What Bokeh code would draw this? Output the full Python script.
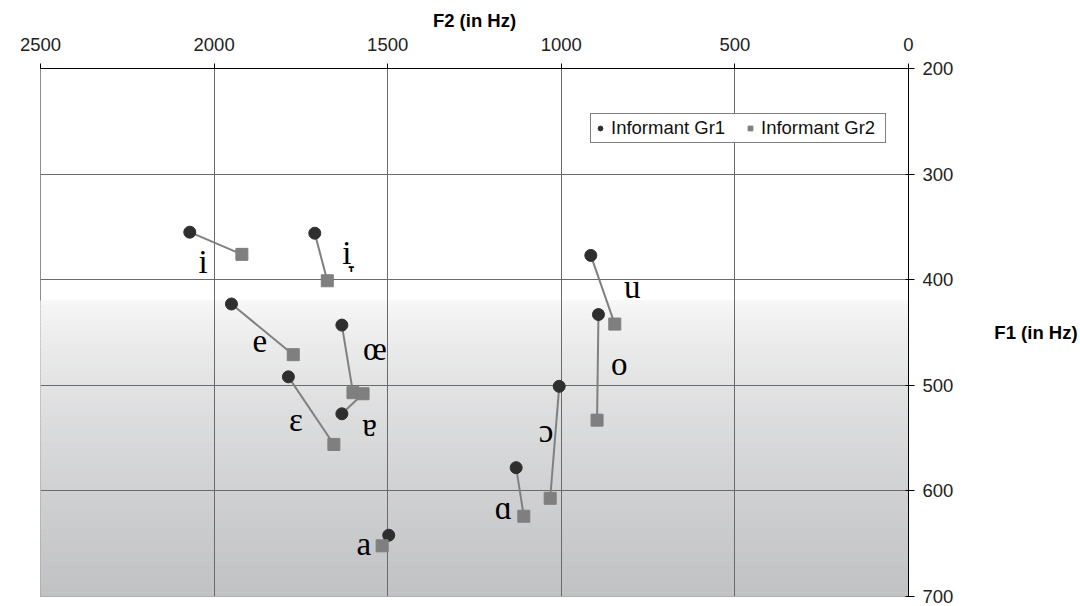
from bokeh.plotting import figure
from bokeh.models import Range1d, Legend, LegendItem, ColumnDataSource, FixedTicker
from bokeh.core.properties import value
from bokeh.embed import file_html
from bokeh.resources import INLINE
import numpy as np

# --- data ---
vowels = ["i", "i\u031e", "e", "\u0153", "\u025b", "\u0250", "a", "\u0251", "\u0254", "u", "o"]
gr1_f2 = [2070, 1710, 1950, 1632, 1786, 1632, 1497, 1130, 1006, 915, 893]
gr1_f1 = [355, 356, 423, 443, 492, 527, 642, 578, 501, 377, 433]
gr2_f2 = [1920, 1674, 1772, 1600, 1655, 1571, 1516, 1108, 1032, 846, 897]
gr2_f1 = [376, 401, 471, 507, 556, 508, 652, 624, 607, 442, 533]
label_f2 = [2032, 1618, 1868, 1537, 1764, 1552, 1569, 1167, 1044, 796, 833]
label_f1 = [383, 375, 458, 466, 533, 538, 650, 616, 543, 407, 480]
x_ticks = [0, 500, 1000, 1500, 2000, 2500]
y_ticks = [200, 300, 400, 500, 600, 700]

SANS = "Liberation Sans"
SERIF = "Liberation Serif"
FS = "18.5px"

p = figure(width=1080, height=606, output_backend="svg", toolbar_location=None,
           x_range=Range1d(2500, 0), y_range=Range1d(700, 200),
           x_axis_location="above", y_axis_location="right",
           min_border_left=40, min_border_right=170, min_border_top=68, min_border_bottom=10)
p.background_fill_color = "white"
p.border_fill_color = "white"
p.outline_line_color = "#8c8c8c"
p.outline_line_width = 1

# background gradient (plot area fill)
n = 70
edges = np.linspace(420, 700, n + 1)
c0 = np.array([249, 249, 249])
c1 = np.array([193, 194, 196])
cols = []
for k in range(n):
    t = ((k + 0.5) / n) ** 0.75
    c = (c0 + (c1 - c0) * t).astype(int)
    cols.append("#%02x%02x%02x" % tuple(c))
bg = p.quad(left=2500, right=0, bottom=edges[1:], top=edges[:-1], fill_color=cols,
            line_color=cols, line_width=1)
bg.level = "image"

# grid
for g in (p.xgrid[0], p.ygrid[0]):
    g.grid_line_color = "#6a6a6a"
    g.grid_line_width = 1
p.xaxis.ticker = FixedTicker(ticks=x_ticks)
p.yaxis.ticker = FixedTicker(ticks=y_ticks)
p.xgrid.ticker = FixedTicker(ticks=x_ticks)
p.ygrid.ticker = FixedTicker(ticks=y_ticks)

for ax in (p.xaxis[0], p.yaxis[0]):
    ax.axis_line_color = "black"
    ax.major_tick_line_color = "black"
    ax.minor_tick_line_color = None
    ax.major_label_text_font = SANS
    ax.major_label_text_font_size = FS
    ax.major_label_text_color = "#222222"
    ax.axis_label_text_font = SANS
    ax.axis_label_text_font_size = FS
    ax.axis_label_text_font_style = "bold"
    ax.axis_label_text_color = "black"
p.xaxis.major_tick_out = 5
p.xaxis.major_tick_in = 0
p.xaxis.major_label_standoff = 13
p.xaxis.axis_label = "F2 (in Hz)"
p.xaxis.axis_label_standoff = 4
p.yaxis.major_tick_out = 6
p.yaxis.major_tick_in = 3
p.yaxis.major_label_standoff = 8
p.yaxis.axis_label = "F1 (in Hz)"
p.yaxis.axis_label_standoff = 38
try:
    p.yaxis[0].axis_label_orientation = "horizontal"
except Exception:
    pass

# connecting lines
p.segment(x0=gr1_f2, y0=gr1_f1, x1=gr2_f2, y1=gr2_f1, line_color="#808080", line_width=2)
r1 = p.scatter(gr1_f2, gr1_f1, marker="circle", size=12, fill_color="#2e2e2e", line_color="#2e2e2e")
r2 = p.scatter(gr2_f2, gr2_f1, marker="square", size=12, fill_color="#7f7f7f", line_color="#7f7f7f")

# vowel labels
src = ColumnDataSource(dict(x=label_f2, y=label_f1, t=vowels))
p.text(x="x", y="y", text="t", source=src, text_font=value(SERIF), text_font_size="33px",
       text_align="center", text_baseline="middle", text_color="black")

legend = Legend(items=[LegendItem(label="Informant Gr1", renderers=[r1]),
                       LegendItem(label="Informant Gr2", renderers=[r2])],
                orientation="horizontal", location=(550, 453))
legend.label_text_font = SANS
legend.label_text_font_size = FS
legend.label_text_color = "#111111"
legend.border_line_color = "black"
legend.border_line_width = 1
legend.background_fill_color = "white"
legend.background_fill_alpha = 1
legend.padding = 3
legend.spacing = 12
legend.margin = 0
legend.glyph_width = 12
legend.glyph_height = 12
legend.label_standoff = 5
legend.label_height = 18
legend.label_width = 121
p.add_layout(legend, "center")

open("out.html", "w").write(file_html(p, INLINE))
